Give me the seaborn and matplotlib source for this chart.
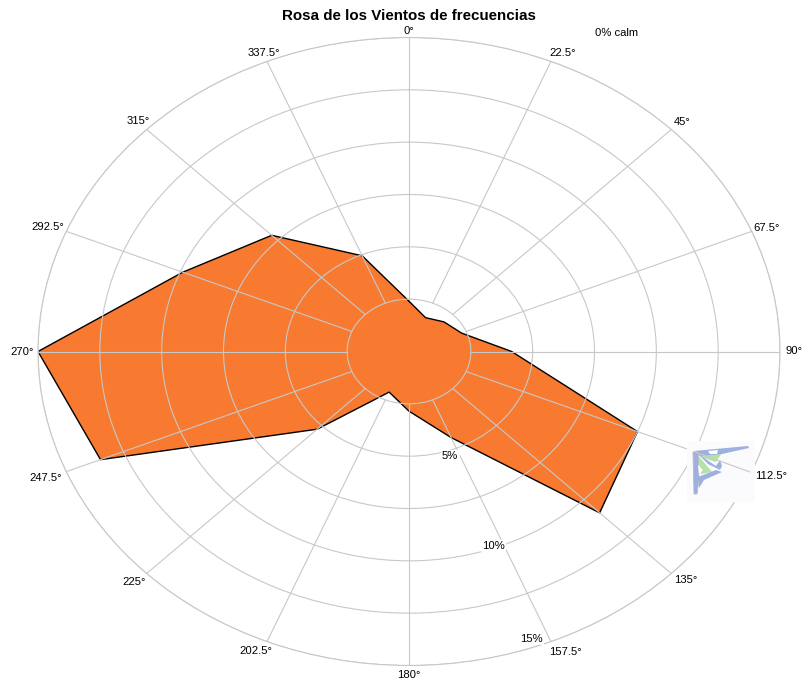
import matplotlib
matplotlib.use('Agg')
import matplotlib.pyplot as plt
from matplotlib.patches import Polygon
import numpy as np
import seaborn as sns

# datos
direcciones = [0, 22.5, 45, 67.5, 90, 112.5, 135, 157.5,
               180, 202.5, 225, 247.5, 270, 292.5, 315, 337.5]
frecuencias = [2.4, 1.75, 2.0, 2.3, 4.15, 10.0, 10.9, 4.45,
               2.85, 2.1, 5.25, 13.5, 15.0, 9.9, 7.85, 4.95]
etiquetas_dir = ['0°', '22.5°', '45°', '67.5°', '90°', '112.5°', '135°', '157.5°',
                 '180°', '202.5°', '225°', '247.5°', '270°', '292.5°', '315°', '337.5°']
anillos = [2.5, 5, 7.5, 10, 12.5, 15]
etiquetas_pct = [(5, '5%'), (10, '10%'), (15, '15%')]

NARANJA = '#F77A30'
GRIS = '#c8c8c8'
W, H = 803, 684

# desplazamiento de cada etiqueta de direccion, en pixeles
offsets_dir = [(0, 7), (12, 8), (11, 7), (15, 3), (14, 0), (19, -4), (14, -6), (14, -10),
               (0, -10), (-11, -9), (-13, -8), (-21, -6), (-16, 0), (-18, 4), (-8, 8), (-3, 8)]
offsets_pct = [(2, -8), (1, -1), (-8, 3)]

sns.set_theme(style='white', rc={'figure.dpi': 100, 'savefig.dpi': 100})
plt.rcParams['font.family'] = ['Liberation Sans', 'DejaVu Sans']

fig = plt.figure(figsize=(W / 100, H / 100), facecolor='white')
ax = fig.add_axes([38 / W, 1 - 665.5 / H, 742 / W, 628 / H], projection='polar')
ax.set_aspect('auto')  # la rosa original esta estirada, es una elipse
ax.set_theta_zero_location('N')
ax.set_theta_direction(-1)

theta = np.deg2rad(direcciones)
theta_c = np.append(theta, 2 * np.pi)
frec_c = np.append(frecuencias, frecuencias[0])

# poligono de frecuencias
ax.fill(theta_c, frec_c, color=NARANJA, lw=0, zorder=1)
sns.lineplot(x=theta_c, y=frec_c, sort=False, estimator=None, color='black',
             linewidth=1.0, ax=ax, zorder=2)
ax.set_xlabel('')
ax.set_ylabel('')

# rejilla encima del poligono: los radios empiezan en el primer anillo
ax.set_axisbelow(False)
ax.set_thetagrids(direcciones, labels=[''] * len(direcciones))
ax.set_rgrids(anillos, labels=[''] * len(anillos))
ax.grid(False, axis='x')
ax.grid(True, axis='y', color=GRIS, linewidth=0.8)
for ang in theta:
    ax.plot([ang, ang], [anillos[0], anillos[-1]], color=GRIS, linewidth=0.8, zorder=3)
ax.tick_params(length=0)
ax.spines['polar'].set_color(GRIS)
ax.spines['polar'].set_linewidth(0.8)
ax.set_ylim(0, anillos[-1])

for ang, txt, off in zip(theta, etiquetas_dir, offsets_dir):
    ax.annotate(txt, (ang, anillos[-1]), xytext=off, textcoords='offset pixels',
                ha='center', va='center', fontsize=8.1, color='black',
                annotation_clip=False)

ang_pct = np.deg2rad(157.5)
for (val, txt), off in zip(etiquetas_pct, offsets_pct):
    ax.annotate(txt, (ang_pct, val), xytext=off, textcoords='offset pixels',
                ha='right', va='center', fontsize=8.1, color='black', zorder=5,
                annotation_clip=False,
                bbox=dict(facecolor='white', edgecolor='none', pad=1))

fig.text(408.5 / W, 1 - 16 / H, 'Rosa de los Vientos de frecuencias', ha='center', va='center',
         fontsize=10.9, fontweight='bold', color='black')
fig.text(617 / W, 1 - 33 / H, '0% calm', ha='center', va='center', fontsize=8.1, color='black')

# logo de la esquina (marca de agua)
logo = fig.add_axes([687 / W, 1 - 502 / H, 68 / W, 61 / H], zorder=6)
logo.set_xlim(687, 755)
logo.set_ylim(502, 441)
logo.set_facecolor('#fbfafd')
logo.set_xticks([])
logo.set_yticks([])
for s in logo.spines.values():
    s.set_visible(False)
verde = '#b4e3a6'
azul = '#9db0e0'
logo.plot([695, 750], [452, 472], color=GRIS, lw=0.8)
logo.add_patch(Polygon([(696, 452), (722, 453), (716, 462), (703, 458)], fc=verde, ec='none'))
logo.add_patch(Polygon([(697, 454), (712, 472), (701, 474)], fc=verde, ec='none'))
logo.add_patch(Polygon([(694, 451), (748, 446), (749, 448), (722, 454), (700, 456)], fc=azul, ec='none'))
logo.add_patch(Polygon([(693, 452), (698, 452), (699, 478), (697, 494), (694, 494)], fc=azul, ec='#b8b8c4', lw=0.6))
logo.add_patch(Polygon([(696, 452), (708, 464), (720, 470), (722, 466), (720, 460), (716, 466), (704, 458)], fc=azul, ec='none'))
logo.add_patch(Polygon([(698, 477), (716, 470), (722, 472), (704, 480), (699, 488)], fc=azul, ec='none'))
logo.add_patch(Polygon([(708, 451), (718, 450), (717, 454), (710, 454)], fc='white', ec='none'))
logo.add_patch(Polygon([(698, 465), (703, 470), (699, 474)], fc='white', ec='none'))

fig.savefig('out.png', dpi=100)
